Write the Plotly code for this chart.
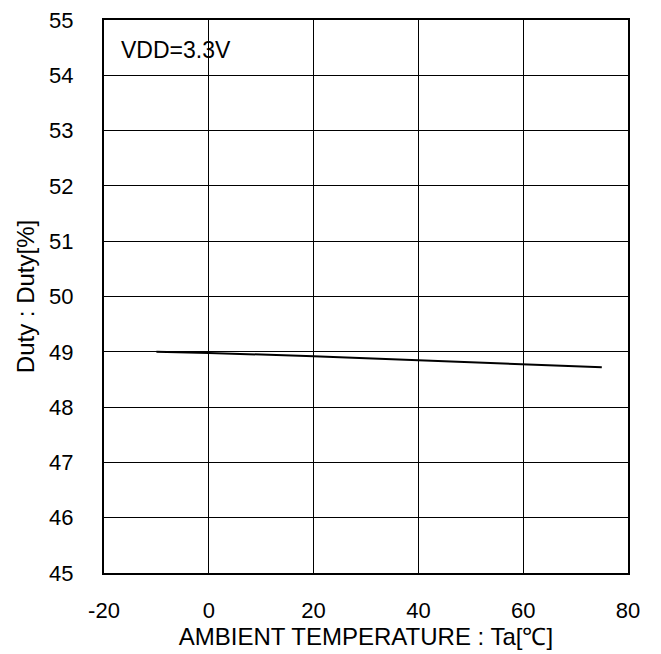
import plotly.graph_objects as go

temps = [-10, 0, 20, 40, 60, 75]
duty = [49.0, 48.98, 48.92, 48.85, 48.78, 48.72]

x_ticks = [-20, 0, 20, 40, 60, 80]
y_ticks = [45, 46, 47, 48, 49, 50, 51, 52, 53, 54, 55]

font = dict(family="Liberation Sans, Arial, sans-serif", size=22, color="black")
title_font = dict(family="Liberation Sans, Arial, sans-serif", size=24, color="black")

fig = go.Figure()
fig.add_trace(go.Scatter(x=temps, y=duty, mode="lines",
                         line=dict(color="black", width=2), showlegend=False))

fig.update_layout(
    width=653, height=646,
    margin=dict(l=96, r=33, t=12, b=81),
    paper_bgcolor="white", plot_bgcolor="white",
    font=font,
    xaxis=dict(range=[-20, 80], tickvals=x_ticks, ticktext=[str(v) for v in x_ticks],
               showgrid=True, gridcolor="black", gridwidth=1,
               showline=True, linecolor="black", linewidth=2, mirror=True,
               ticks="", zeroline=False, ticklabelstandoff=17, automargin=False,
               ticklabeloverflow="allow",
               title=dict(text="AMBIENT TEMPERATURE : Ta[℃]", font=title_font, standoff=3)),
    yaxis=dict(range=[45, 55], tickvals=y_ticks, ticktext=[str(v) for v in y_ticks],
               showgrid=True, gridcolor="black", gridwidth=1,
               showline=True, linecolor="black", linewidth=2, mirror=True,
               ticks="", zeroline=False, ticklabelstandoff=24, automargin=False,
               ticklabeloverflow="allow",
               title=dict(text="Duty : Duty[%]", font=title_font, standoff=8)),
    annotations=[dict(text="VDD=3.3V", xref="paper", yref="paper", x=0.028, y=0.972,
                      xanchor="left", yanchor="top", showarrow=False,
                      font=dict(family=font["family"], size=23, color="black"))],
)

fig.write_html("out.html")
